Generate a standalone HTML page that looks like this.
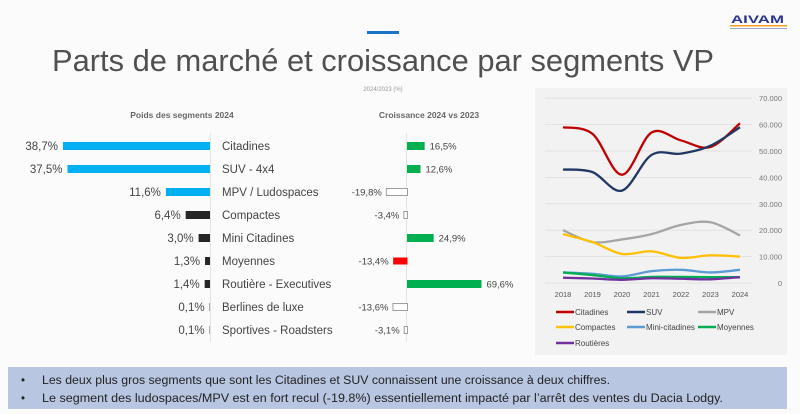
<!DOCTYPE html>
<html><head><meta charset="utf-8"><style>
html,body{margin:0;padding:0;background:#fbfbfc;}
svg{display:block;font-family:"Liberation Sans",sans-serif;}
</style></head><body>
<svg width="800" height="414" viewBox="0 0 800 414" xmlns="http://www.w3.org/2000/svg">
<rect width="800" height="414" fill="#fbfbfc"/>
<rect x="367" y="31" width="32" height="3" fill="#1a73c4"/>
<text x="731" y="23" font-size="11" font-weight="bold" fill="#2a3590" textLength="53" lengthAdjust="spacingAndGlyphs">AIVAM</text>
<rect x="730" y="25" width="57" height="1.5" fill="#f0a020"/>
<rect x="730" y="28" width="57" height="1" fill="#a0a6c8"/>
<text x="52" y="71" font-size="31" fill="#505050" textLength="662" lengthAdjust="spacingAndGlyphs">Parts de marché et croissance par segments VP</text>
<text x="383" y="91" font-size="6" fill="#999" text-anchor="middle">2024/2023 (%)</text>
<text x="182" y="118" font-size="8.5" font-weight="bold" fill="#666" text-anchor="middle">Poids des segments 2024</text>
<text x="429" y="118" font-size="8.5" font-weight="bold" fill="#666" text-anchor="middle">Croissance 2024 vs 2023</text>
<line x1="210.5" y1="133" x2="210.5" y2="342" stroke="#e4e4e4"/>
<line x1="406.5" y1="133" x2="406.5" y2="342" stroke="#e4e4e4"/>
<g id="bars" font-size="11.5" fill="#444"></g>

<rect x="535" y="88" width="252" height="267" fill="#f2f2f2"/>
<g id="lc"></g>

<rect x="8" y="367" width="779" height="42" fill="#b8c6e2"/>
<g font-size="11.5" fill="#222">
<text x="21" y="384">•</text><text x="42" y="384" textLength="568" lengthAdjust="spacingAndGlyphs">Les deux plus gros segments que sont les Citadines et SUV connaissent une croissance à deux chiffres.</text>
<text x="21" y="402">•</text><text x="42" y="402" textLength="681" lengthAdjust="spacingAndGlyphs">Le segment des ludospaces/MPV est en fort recul (-19.8%) essentiellement impacté par l’arrêt des ventes du Dacia Lodgy.</text>
</g>
</svg>
<script>
const NS="http://www.w3.org/2000/svg";
function el(p,t,a,txt){const e=document.createElementNS(NS,t);for(const k in a)e.setAttribute(k,a[k]);if(txt!=null)e.textContent=txt;p.appendChild(e);return e;}
const rows=[["Citadines","38,7%",38.7,"#00b0f0",16.5,"16,5%","#00b050"],
["SUV - 4x4","37,5%",37.5,"#00b0f0",12.6,"12,6%","#00b050"],
["MPV / Ludospaces","11,6%",11.6,"#00b0f0",-19.8,"-19,8%","none"],
["Compactes","6,4%",6.4,"#262626",-3.4,"-3,4%","none"],
["Mini Citadines","3,0%",3.0,"#262626",24.9,"24,9%","#00b050"],
["Moyennes","1,3%",1.3,"#262626",-13.4,"-13,4%","#ff0000"],
["Routière - Executives","1,4%",1.4,"#262626",69.6,"69,6%","#00b050"],
["Berlines de luxe","0,1%",0.1,"#262626",-13.6,"-13,6%","none"],
["Sportives - Roadsters","0,1%",0.1,"#262626",-3.1,"-3,1%","none"]];
const g=document.getElementById("bars");
rows.forEach((r,i)=>{const y=146+i*23;
 const w=r[2]*3.8; el(g,"rect",{x:210-w,y:y-4,width:w,height:8,fill:r[3]});
 el(g,"text",{x:210-w-5,y:y+4,"text-anchor":"end"},r[1]);
 el(g,"text",{x:222,y:y+4},r[0]);
 const gw=Math.abs(r[4])*1.07;
 if(r[4]>0){el(g,"rect",{x:407,y:y-4,width:gw,height:8,fill:r[6]});
  el(g,"text",{x:407+gw+5,y:y+3.5,"font-size":"9.5"},r[5]);}
 else{el(g,"rect",{x:407-gw+.5,y:y-3.5,width:gw,height:7,fill:r[6]=="none"?"#fff":r[6],stroke:r[6]=="none"?"#888":"none","stroke-width":"0.8"});
  el(g,"text",{x:407-gw-4,y:y+3.5,"font-size":"9.5","text-anchor":"end"},r[5]);}
});
const lc=document.getElementById("lc");
const Y=v=>283-v/10000*26.4, X=i=>563+i*29.5;
for(let k=0;k<=7;k++){const y=Y(k*10000);
 el(lc,"line",{x1:545,x2:752,y1:y,y2:y,stroke:"#dedede","stroke-width":"0.8"});
 el(lc,"text",{x:782,y:y+3,"font-size":"7.5",fill:"#777","text-anchor":"end"},k==0?"0":(k*10)+".000");}
for(let i=0;i<7;i++)el(lc,"text",{x:X(i),y:297,"font-size":"7.5",fill:"#555","text-anchor":"middle"},2018+i);
const S=[["#c00000",[59000,56500,41000,57000,54000,51500,60500]],
["#1f3864",[43000,42000,35000,48500,49000,52000,59000]],
["#a5a5a5",[20000,15500,16500,18500,22000,23000,18000]],
["#ffc000",[18500,15500,11000,12000,9500,10500,10000]],
["#5b9bd5",[4000,3500,2500,4500,5000,4000,5000]],
["#00b050",[4000,3000,1800,2300,2300,2200,2200]],
["#7030a0",[2000,1700,1200,1800,1600,1400,2200]]];
S.forEach(s=>{const p=s[1].map((v,i)=>[X(i),Y(v)]);let d="M"+p[0];
 for(let i=0;i<p.length-1;i++){const a=p[Math.max(i-1,0)],b=p[i],c=p[i+1],e=p[Math.min(i+2,p.length-1)];
  const c1=[b[0]+(c[0]-a[0])/6,b[1]+(c[1]-a[1])/6],c2=[c[0]-(e[0]-b[0])/6,c[1]-(e[1]-b[1])/6];
  d+=" C"+c1+" "+c2+" "+c;}
 el(lc,"path",{d:d,fill:"none",stroke:s[0],"stroke-width":"2.3"});});
const L=[["Citadines","#c00000",556,312],["SUV","#1f3864",627,312],["MPV","#a5a5a5",698,312],
["Compactes","#ffc000",556,327],["Mini-citadines","#5b9bd5",627,327],["Moyennes","#00b050",698,327],["Routières","#7030a0",556,343]];
L.forEach(l=>{el(lc,"line",{x1:l[2],x2:l[2]+18,y1:l[3],y2:l[3],stroke:l[1],"stroke-width":"2.5"});
 el(lc,"text",{x:l[2]+19,y:l[3]+3,"font-size":"8",fill:"#444"},l[0]);});
</script>
</body></html>
